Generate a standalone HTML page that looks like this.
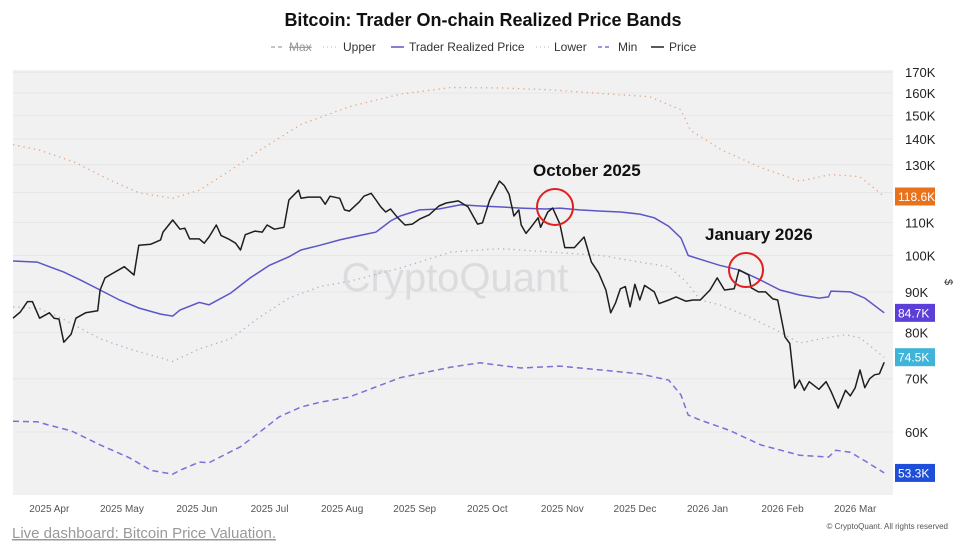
<!DOCTYPE html>
<html><head><meta charset="utf-8">
<style>
body{margin:0;width:972px;height:545px;background:#fff;font-family:"Liberation Sans",sans-serif;overflow:hidden;position:relative}
svg{position:absolute;left:0;top:0}
</style></head>
<body>
<svg id="chart" width="972" height="545">
<text x="483" y="26" text-anchor="middle" font-size="18" font-weight="bold" fill="#111">Bitcoin: Trader On-chain Realized Price Bands</text>
<g font-size="12" fill="#333">
 <g><line x1="271" y1="47" x2="284" y2="47" stroke="#888" stroke-dasharray="4,3"/><text x="289" y="51" fill="#999" text-decoration="line-through">Max</text></g>
 <g><line x1="323" y1="47" x2="336" y2="47" stroke="#e0b090" stroke-dasharray="1,3"/><text x="343" y="51">Upper</text></g>
 <g><line x1="391" y1="47" x2="404" y2="47" stroke="#5b55c8" stroke-width="1.5"/><text x="409" y="51">Trader Realized Price</text></g>
 <g><line x1="536" y1="47" x2="549" y2="47" stroke="#b0b8d0" stroke-dasharray="1,3"/><text x="554" y="51">Lower</text></g>
 <g><line x1="598" y1="47" x2="612" y2="47" stroke="#7a70d8" stroke-dasharray="4,3" stroke-width="1.5"/><text x="618" y="51">Min</text></g>
 <g><line x1="651" y1="47" x2="664" y2="47" stroke="#222" stroke-width="1.5"/><text x="669" y="51">Price</text></g>
</g>
<rect x="13" y="70" width="880" height="425" fill="#f1f1f1"/>
<g id="grid"></g>
<text x="455" y="291" text-anchor="middle" font-size="40" fill="#dcdcdf">CryptoQuant</text>
<g id="series"></g>
<g id="yaxis" font-size="13" fill="#222"></g>
<g id="xaxis" font-size="10" fill="#555"></g>
<text x="945" y="282" font-size="11" fill="#333" transform="rotate(90 945 282)" text-anchor="middle">$</text>
<g>
 <text x="533" y="176" font-size="17" font-weight="bold" fill="#111">October 2025</text>
 <circle cx="555" cy="207" r="18" fill="none" stroke="#e02020" stroke-width="2"/>
</g>
<g>
 <text x="705" y="240" font-size="17" font-weight="bold" fill="#111">January 2026</text>
 <circle cx="746" cy="270" r="17" fill="none" stroke="#e02020" stroke-width="2"/>
</g>
<g id="labels" font-size="12" fill="#fff"></g>
<text x="12" y="538" font-size="15" fill="#999" text-decoration="underline">Live dashboard: Bitcoin Price Valuation.</text>
<text x="948" y="529" font-size="8" fill="#555" text-anchor="end">© CryptoQuant. All rights reserved</text>
</svg>
<script>
const yTicks=[60,70,80,90,100,110,120,130,140,150,160,170];
const monthLabels=["2025 Apr","2025 May","2025 Jun","2025 Jul","2025 Aug","2025 Sep","2025 Oct","2025 Nov","2025 Dec","2026 Jan","2026 Feb","2026 Mar"];
const monthDays=[15,45,76,106,136,166,196,227,257,287,318,348];
const priceDays=[0,3,6,8,11,15,17,19,21,24,26,30,35,36,38,40,46,50,52,57,61,62,66,69,71,73,77,79,81,84,86,89,92,94,96,100,103,105,108,112,114,118,119,122,127,129,131,135,137,139,143,145,148,150,152,154,156,159,162,165,168,172,176,179,184,188,192,194,197,201,203,205,207,209,210,212,214,217,218,221,223,226,228,232,236,239,242,245,247,249,251,253,255,257,259,261,265,267,271,274,278,281,284,288,291,294,298,300,304,305,308,311,314,316,319,321,323,325,327,329,333,336,338,341,344,346,348,350,352,354,356,358,360];
const priceVals=[83.4,84.9,87.5,87.5,83.4,84.7,83.4,83.2,77.8,79.6,83.4,84.7,85.2,90.5,93.7,94.5,96.8,94.5,103.0,103.3,104.6,107.0,110.8,107.9,108.2,104.9,104.9,103.6,105.5,109.2,105.9,104.9,103.6,101.6,106.2,107.3,107.0,109.2,107.9,108.5,117.4,120.8,118.0,118.4,118.4,116.0,118.7,118.0,114.1,113.7,116.7,118.7,119.7,117.4,115.1,113.4,114.4,111.5,109.2,109.5,111.1,112.5,115.4,116.4,117.1,115.1,109.5,109.9,117.4,124.0,122.4,119.4,112.1,114.1,109.2,106.6,108.5,111.5,108.5,113.4,114.7,109.5,102.3,102.3,105.5,98.1,95.1,90.5,84.7,87.2,90.8,91.4,86.2,92.0,87.9,91.7,90.0,87.0,87.9,88.7,87.6,87.9,87.9,90.5,93.7,90.5,90.8,95.9,94.5,91.1,90.0,90.0,88.2,87.9,79.0,77.5,68.1,69.7,67.7,69.4,67.9,69.4,67.5,64.3,67.7,66.6,68.2,71.8,68.2,70.0,70.8,71.0,73.4];
const trpDays=[0,10,15,21,28,36,44,52,61,66,69,77,81,90,98,106,114,119,127,135,143,150,156,160,168,176,185,193,201,210,220,226,234,243,251,259,265,271,276,279,284,292,300,309,317,325,333,337,338,346,352,360];
const trpVals=[98.4,98.1,96.8,95.3,93.1,90.5,87.9,85.9,84.4,83.9,85.4,87.3,86.7,89.7,93.7,97.2,99.6,101.6,103.0,104.6,105.9,107.0,110.5,112.1,114.1,114.4,115.8,115.4,115.1,114.7,114.4,114.7,114.1,113.7,113.4,112.7,111.5,108.8,105.2,100.0,98.9,97.2,95.9,93.1,90.5,89.2,88.4,88.7,90.2,90.0,88.4,84.7];
const upperDays=[0,11,26,40,52,66,77,90,102,119,139,160,181,201,222,243,263,276,280,293,309,325,338,350,360];
const upperVals=[137.8,135.6,130.8,124.4,119.9,118.0,120.8,128.0,135.6,146.1,153.8,159.5,162.6,162.4,161.5,159.8,158.3,152.4,143.6,135.6,129.0,124.0,126.4,125.6,118.6];
const lowerDays=[0,11,19,36,48,66,77,90,102,114,127,139,160,181,201,222,243,259,271,278,284,292,305,317,325,336,344,350,360];
const lowerVals=[86.2,85.7,83.7,78.6,76.3,73.6,76.3,78.6,83.7,88.4,91.4,92.8,96.4,101.0,102.0,101.0,100.0,98.1,96.8,92.8,87.9,86.7,83.5,80.1,77.6,78.8,79.5,78.8,74.5];
const minDays=[0,10,15,24,36,48,57,66,69,77,81,94,102,110,119,127,139,160,181,193,210,226,243,259,271,276,279,284,296,309,325,337,340,346,352,360];
const minVals=[61.9,61.8,61.2,60.2,57.8,55.7,53.7,53.1,53.7,55.0,54.9,57.5,60.0,62.7,64.5,65.4,66.4,70.2,72.4,73.3,72.2,72.6,71.8,71.0,69.7,66.8,63.0,62.1,60.3,57.8,56.1,55.8,56.9,56.6,55.2,53.3];
const lastLabels=[["118.6K",118.6,"#e8711c","label-upper-last"],["84.7K",84.7,"#5b3fd6","label-trp-last"],["74.5K",74.5,"#3fb4d8","label-lower-last"],["53.3K",53.3,"#1f4fd8","label-min-last"]];

const NS="http://www.w3.org/2000/svg";
function X(d){return 13+d*2.42;}
function Y(v){return 432-345.6*Math.log(v/60);}
function mk(tag,attrs,parent){const e=document.createElementNS(NS,tag);for(const k in attrs)e.setAttribute(k,attrs[k]);parent.appendChild(e);return e;}
const grid=document.getElementById('grid'),ya=document.getElementById('yaxis'),xa=document.getElementById('xaxis'),ser=document.getElementById('series'),lab=document.getElementById('labels');
yTicks.forEach(t=>{
 const l=mk('line',{x1:13,x2:893,y1:Y(t),y2:Y(t),stroke:'#e6e6e6','stroke-width':1},grid);
 
 
 const tx=mk('text',{x:905,y:Y(t)+5},ya);tx.textContent=t+'K';
 
 
});
monthLabels.forEach((m,i)=>{
 const tx=mk('text',{x:X(monthDays[i]),y:512,'text-anchor':'middle'},xa);tx.textContent=m;
 
 
});
function path(days,vals){return days.map((d,i)=>(i?'L':'M')+X(d).toFixed(1)+','+Y(vals[i]).toFixed(1)).join(' ');}
const up=mk('path',{d:path(upperDays,upperVals),fill:'none',stroke:'#e2a584','stroke-width':1.3,'stroke-dasharray':'1.3,4'},ser);


const lo=mk('path',{d:path(lowerDays,lowerVals),fill:'none',stroke:'#aab2cc','stroke-width':1.3,'stroke-dasharray':'1.3,4'},ser);


const mn=mk('path',{d:path(minDays,minVals),fill:'none',stroke:'#7a70d8','stroke-width':1.5,'stroke-dasharray':'6,4'},ser);


const tr=mk('path',{d:path(trpDays,trpVals),fill:'none',stroke:'#5b55c8','stroke-width':1.5},ser);


const pr=mk('path',{d:path(priceDays,priceVals),fill:'none',stroke:'#1e1e1e','stroke-width':1.5,'stroke-linejoin':'round'},ser);


lastLabels.forEach(([t,v,c,n])=>{
 const g=mk('g',{},lab);
 
 
 mk('rect',{x:895,y:Y(v)-9,width:40,height:18,fill:c},g);
 const tx=mk('text',{x:898,y:Y(v)+4.5},g);tx.textContent=t;
});
</script>
</body></html>
